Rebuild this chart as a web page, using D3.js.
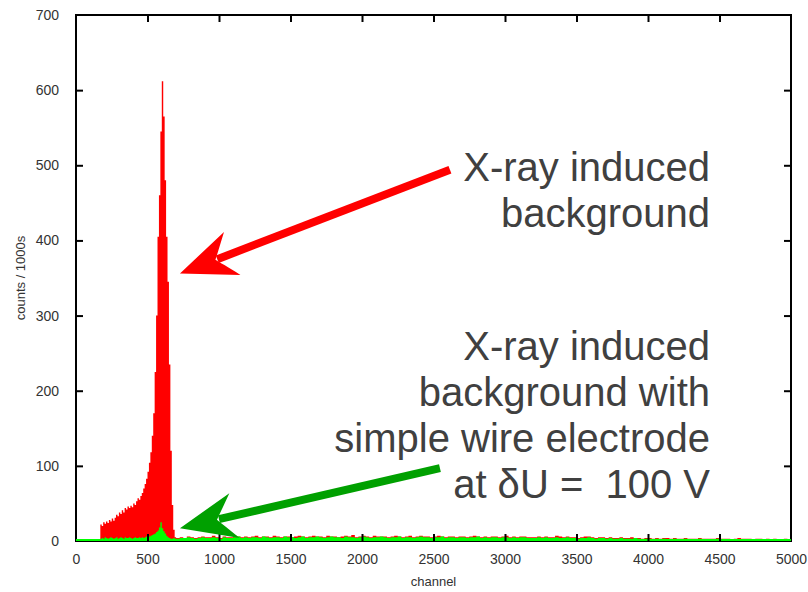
<!DOCTYPE html>
<html>
<head>
<meta charset="utf-8">
<script src="https://cdn.jsdelivr.net/npm/d3@7/dist/d3.min.js"></script>
<style>
  html, body { margin: 0; padding: 0; background: #fff; }
  svg { display: block; }
  text { font-family: "Liberation Sans", Arial, sans-serif; }
</style>
</head>
<body>
<svg id="chart" width="808" height="592"></svg>
<script>
// ---------------- data ----------------
// Peak region: bins of 10 channels starting at channel 170
const peakStart = 170;
const peakBinWidth = 10;
const redPeak = [
  22, 20, 25, 23, 26, 24, 28, 26, 30, 27,
  31, 35, 33, 38, 36, 41, 38, 44, 42, 46,
  44, 47, 45, 50, 48, 53, 57, 55, 60, 64,
  70, 76, 83, 92, 104, 118, 140, 170, 225, 300,
  405, 460, 545, 612, 565, 480, 405, 345, 235, 120,
  48, 15, 5
];
const greenPeak = [
  3, 4, 3, 5, 4, 3, 4, 5, 4, 3,
  4, 5, 3, 4, 5, 4, 3, 5, 4, 4,
  5, 4, 3, 4, 5, 4, 4, 5, 4, 5,
  4, 5, 6, 5, 6, 7, 8, 9, 10, 12,
  14, 18, 25, 17, 13, 10, 7, 5, 4, 3,
  3, 4, 3
];
// Tail region: bins of 25 channels starting at channel 700
const tailStart = 700;
const tailBinWidth = 25;
const redTail = [
  4,5,4,6,5,4,5,6,5,5,7,5,4,6,5,5,7,6,5,6,
  5,6,7,5,6,6,5,7,6,5,6,6,5,6,7,6,5,6,7,6,
  6,5,7,6,6,5,6,7,6,8,5,6,7,6,5,7,6,6,6,5,
  6,7,6,5,6,7,5,6,7,6,6,5,6,7,6,5,6,6,5,6,
  6,5,6,7,6,5,6,5,6,6,5,6,7,5,6,5,6,6,5,5,
  5,6,5,6,5,5,7,6,5,6,5,5,4,5,6,6,5,4,5,5,
  4,5,4,4,5,4,4,5,4,4,3,4,4,3,4,3,4,4,3,4,
  3,3,4,3,3,3,4,3,3,3,3,4,3,3,3,2,3,4,3,3,
  3,2,3,3,2,3,2,3,2,2,3,2
];
const greenTail = [
  3,4,4,5,4,3,4,5,4,4,5,4,3,5,4,4,5,6,4,5,
  4,5,5,4,6,5,4,5,5,4,6,5,5,4,5,6,4,5,5,6,
  5,4,5,6,5,5,4,6,5,5,4,5,6,5,4,5,5,6,5,4,
  5,5,6,4,5,5,4,5,6,5,5,4,5,5,6,4,5,5,4,5,
  5,4,5,5,6,4,5,4,5,5,4,5,5,4,5,4,5,5,4,4,
  4,5,4,5,4,4,5,4,4,5,4,4,3,4,4,5,4,3,4,4,
  3,4,3,3,4,3,3,3,4,3,2,3,3,2,3,2,3,2,2,3,
  2,2,3,2,2,2,3,2,2,2,2,3,2,2,2,1,2,2,2,2,
  2,1,2,2,1,2,1,2,1,1,2,1
];
const xTicks = [0, 500, 1000, 1500, 2000, 2500, 3000, 3500, 4000, 4500, 5000];
const yTicks = [0, 100, 200, 300, 400, 500, 600, 700];
const xLabel = "channel";
const yLabel = "counts / 1000s";

// annotations (in data coordinates: channel, counts)
const annotations = [
  { color: "#ff0000", from: [2615, 494], to: [727, 356] },
  { color: "#00a000", from: [2545, 97], to: [727, 17] }
];
const upperText = ["X-ray induced", "background"];
const lowerText = ["X-ray induced", "background with", "simple wire electrode", "at \u03b4U =  100 V"];

// ---------------- layout ----------------
const svg = d3.select("#chart");
const mLeft = 76, mRight = 791, mTop = 15, mBottom = 541;
const x = d3.scaleLinear().domain([0, 5000]).range([mLeft, mRight]);
const y = d3.scaleLinear().domain([0, 700]).range([mBottom, mTop]);

function buildSeries(peak, tail) {
  const pts = [];
  peak.forEach((v, i) => pts.push({ c: peakStart + i * peakBinWidth, v }));
  tail.forEach((v, i) => pts.push({ c: tailStart + i * tailBinWidth, v }));
  pts.push({ c: 5000, v: tail[tail.length - 1] });
  return pts;
}
const redData = buildSeries(redPeak, redTail);
const greenData = buildSeries(greenPeak, greenTail);

const area = d3.area()
  .curve(d3.curveStepAfter)
  .x(d => x(d.c))
  .y0(y(0))
  .y1(d => y(d.v));

svg.append("path").datum(redData).attr("d", area).attr("fill", "#ff0000");
svg.append("path").datum(greenData).attr("d", area).attr("fill", "#00ff00");

// frame
svg.append("rect")
  .attr("x", mLeft).attr("y", mTop)
  .attr("width", mRight - mLeft).attr("height", mBottom - mTop)
  .attr("fill", "none").attr("stroke", "#000").attr("stroke-width", 2);

// green baseline (zero-height boxes)
svg.append("line")
  .attr("x1", x(0)).attr("x2", x(5000))
  .attr("y1", y(0) - 1).attr("y2", y(0) - 1)
  .attr("stroke", "#00ff00").attr("stroke-width", 2);

// axes with inward ticks, mirrored
const tickLen = 7;
const gxB = svg.append("g").attr("transform", `translate(0,${mBottom})`)
  .call(d3.axisBottom(x).tickValues(xTicks).tickSize(-tickLen).tickPadding(tickLen + 6).tickFormat(d3.format("d")));
const gxT = svg.append("g").attr("transform", `translate(0,${mTop})`)
  .call(d3.axisTop(x).tickValues(xTicks).tickSize(-tickLen).tickFormat(""));
const gyL = svg.append("g").attr("transform", `translate(${mLeft},0)`)
  .call(d3.axisLeft(y).tickValues(yTicks).tickSize(-tickLen).tickPadding(tickLen + 10).tickFormat(d3.format("d")));
const gyR = svg.append("g").attr("transform", `translate(${mRight},0)`)
  .call(d3.axisRight(y).tickValues(yTicks).tickSize(-tickLen).tickFormat(""));

[gxB, gxT, gyL, gyR].forEach(g => {
  g.select(".domain").remove();
  g.selectAll(".tick line").attr("stroke", "#000").attr("stroke-width", 2);
  g.selectAll(".tick text")
    .attr("font-family", "'Liberation Sans', Arial, sans-serif")
    .attr("font-size", 14).attr("fill", "#333");
});
// hide end ticks that sit on the frame corners
[gxB, gxT].forEach(g => g.selectAll(".tick line").filter(d => d === 0 || d === 5000).remove());
[gyL, gyR].forEach(g => g.selectAll(".tick line").filter(d => d === 0 || d === 700).remove());

// axis titles
svg.append("text")
  .attr("x", (mLeft + mRight) / 2).attr("y", 586)
  .attr("text-anchor", "middle").attr("font-size", 13).attr("fill", "#333")
  .text(xLabel);
svg.append("text")
  .attr("transform", `translate(25,${(mTop + mBottom) / 2}) rotate(-90)`)
  .attr("text-anchor", "middle").attr("font-size", 13).attr("fill", "#333")
  .text(yLabel);

// arrows
function drawArrow(a) {
  const [x1, y1] = [x(a.from[0]), y(a.from[1])];
  const [x2, y2] = [x(a.to[0]), y(a.to[1])];
  const dx = x1 - x2, dy = y1 - y2;
  const len = Math.hypot(dx, dy);
  const ux = dx / len, uy = dy / len;
  const nx = -uy, ny = ux;
  const L = 56, W = 23, notch = 38;
  const P = (s, t) => [x2 + ux * s + nx * t, y2 + uy * s + ny * t];
  svg.append("line")
    .attr("x1", x1).attr("y1", y1)
    .attr("x2", P(notch + 2, 0)[0]).attr("y2", P(notch + 2, 0)[1])
    .attr("stroke", a.color).attr("stroke-width", 8);
  const tip = P(0, 0), b1 = P(L, W), b2 = P(L, -W), n = P(notch, 0);
  const c1 = P(L - 14, 5), c2 = P(L - 14, -5);
  const path = `M${tip}L${b1}Q${c1} ${n}Q${c2} ${b2}Z`;
  svg.append("path").attr("d", path).attr("fill", a.color);
}
annotations.forEach(drawArrow);

// annotation text
const textX = 710;
const lineH = 46;
svg.append("g").selectAll("text").data(upperText).join("text")
  .attr("x", textX).attr("y", (d, i) => 181 + i * lineH)
  .attr("text-anchor", "end").attr("font-size", 40).attr("fill", "#404040")
  .attr("xml:space", "preserve").style("white-space", "pre")
  .text(d => d);
svg.append("g").selectAll("text").data(lowerText).join("text")
  .attr("x", textX).attr("y", (d, i) => 360 + i * lineH)
  .attr("text-anchor", "end").attr("font-size", 40).attr("fill", "#404040")
  .attr("xml:space", "preserve").style("white-space", "pre")
  .text(d => d);
</script>
</body>
</html>
